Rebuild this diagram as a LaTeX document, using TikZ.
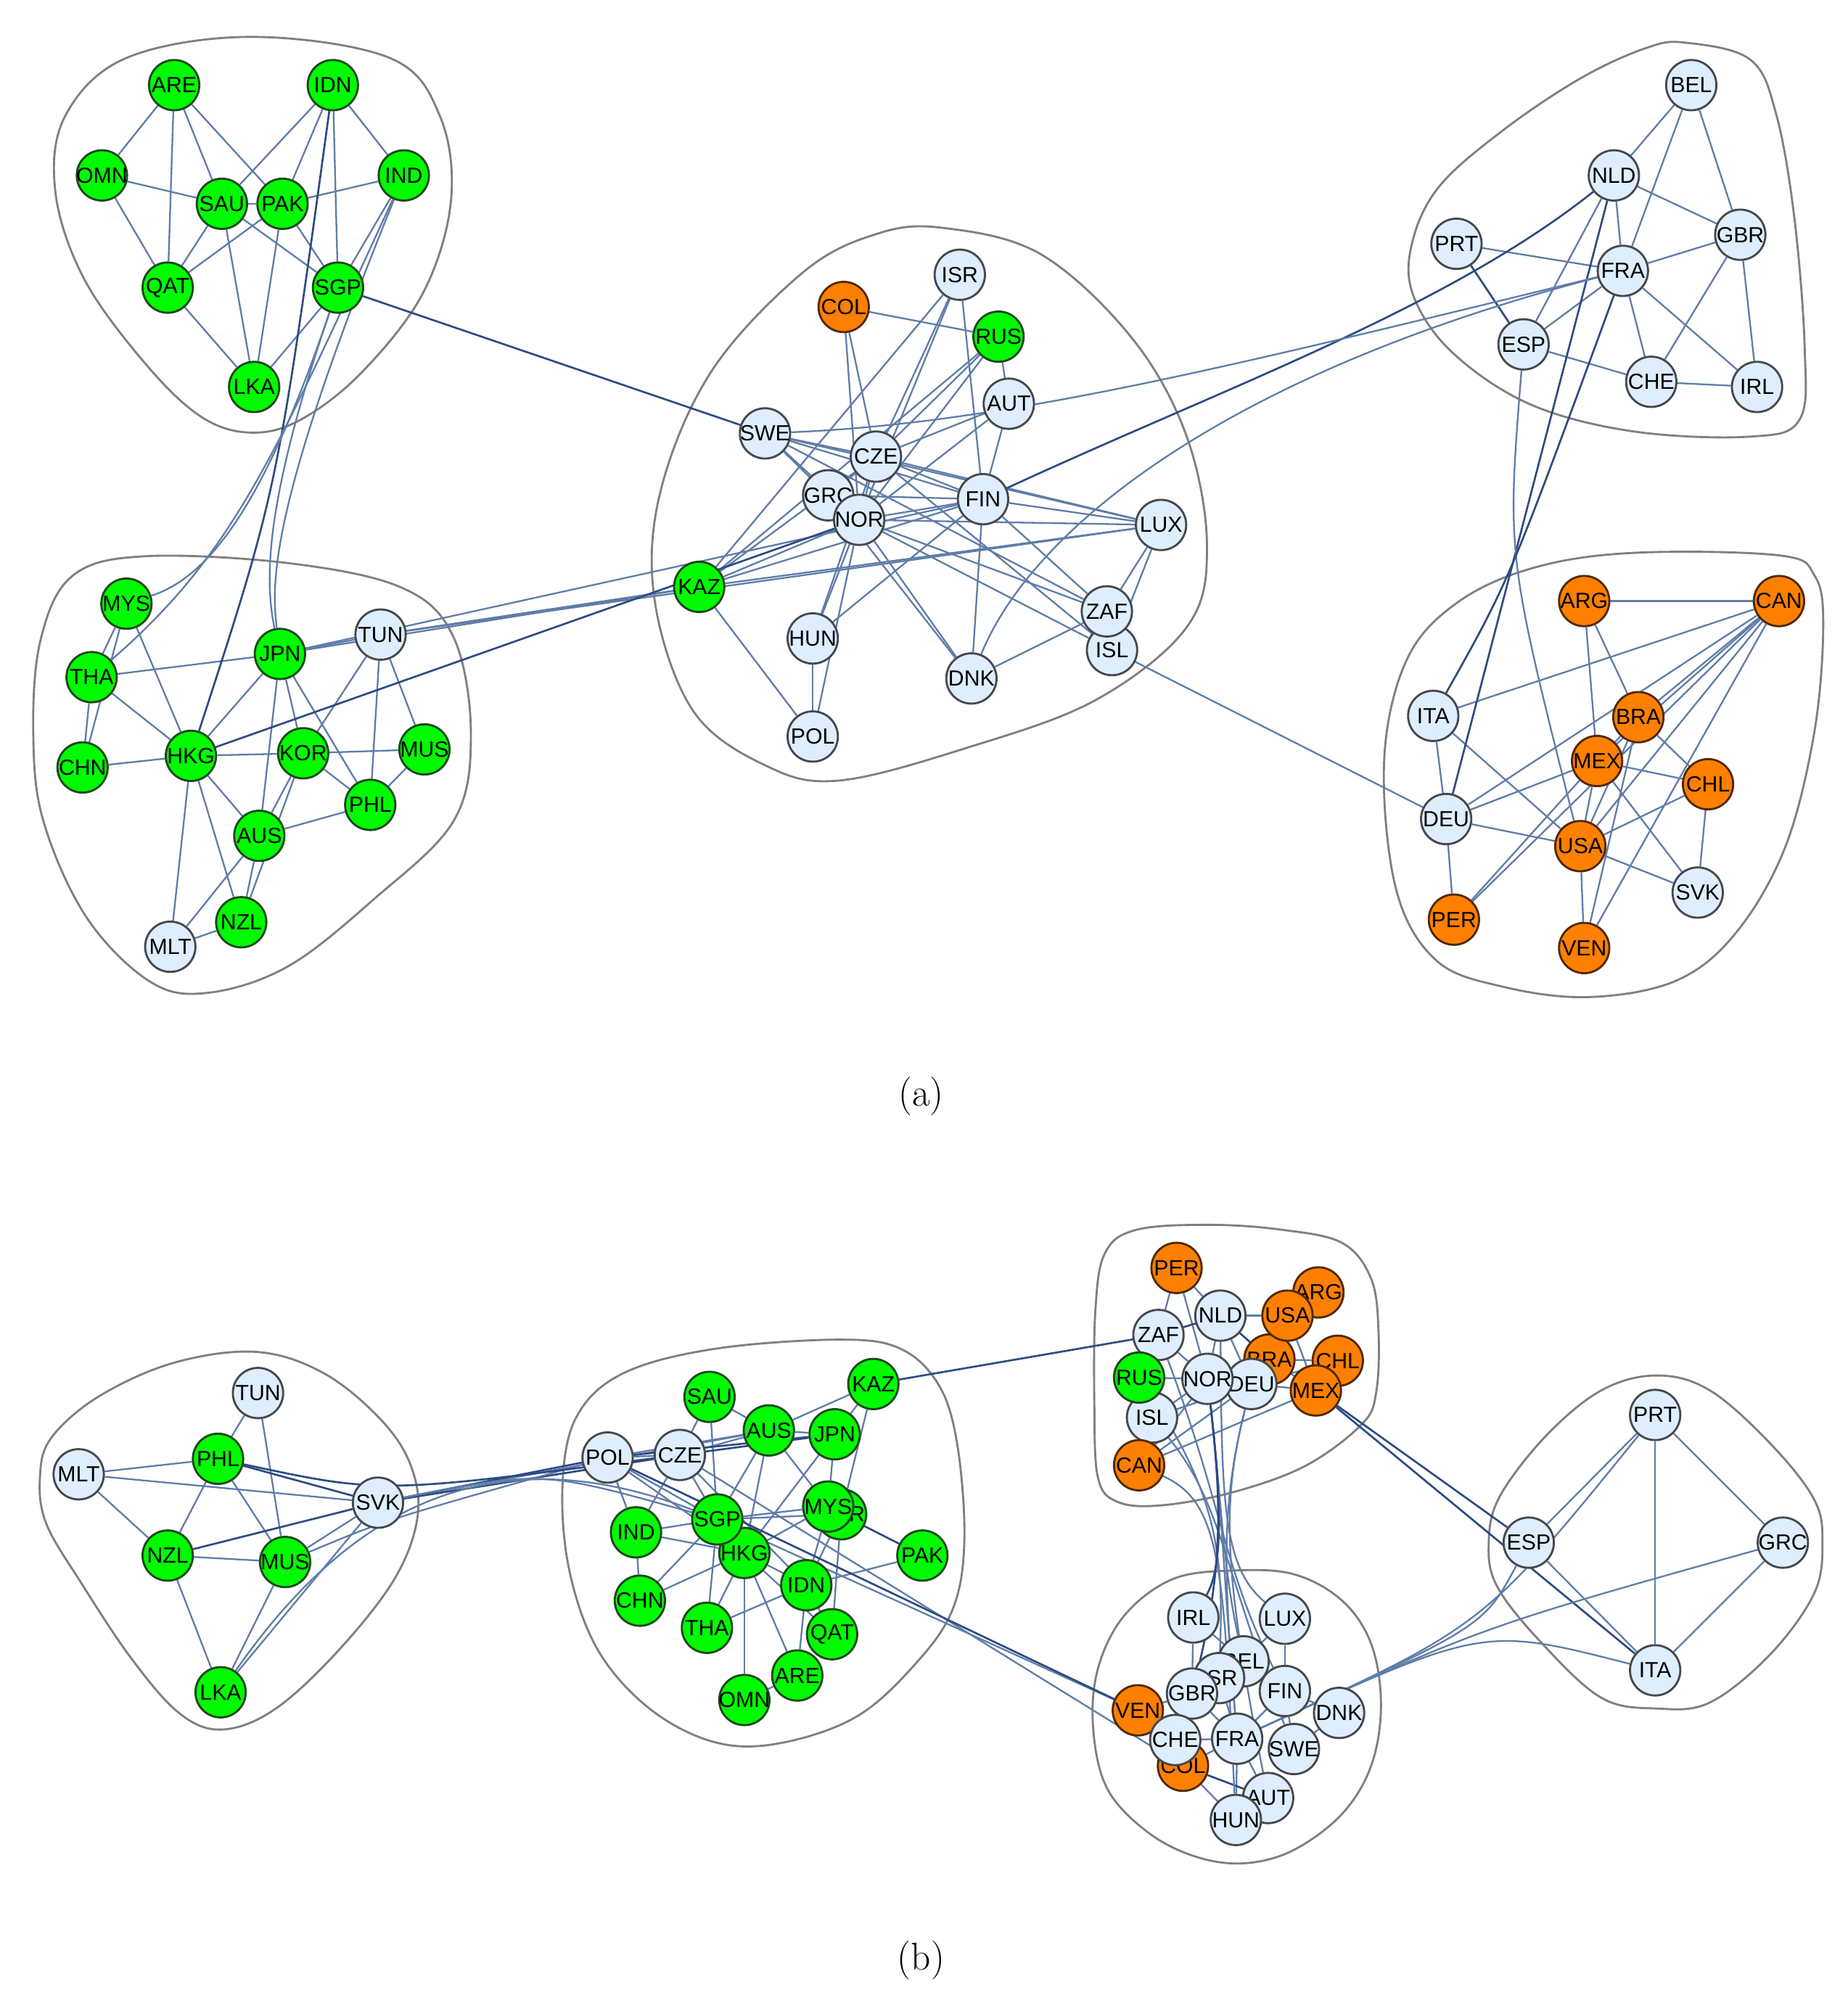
\documentclass[tikz,border=0pt]{standalone}
\usepackage{fontspec}
\newfontfamily\labfont{Liberation Sans}
\pgfdeclarelayer{bg}
\pgfsetlayers{bg,main}
\definecolor{gfill}{RGB}{0,250,0}
\definecolor{gline}{RGB}{30,70,30}
\definecolor{ofill}{RGB}{255,128,0}
\definecolor{oline}{RGB}{80,40,10}
\definecolor{bfill}{RGB}{222,238,255}
\definecolor{bline}{RGB}{70,72,78}
\definecolor{ecol}{RGB}{95,125,168}
\definecolor{edark}{RGB}{45,75,130}
\definecolor{hcol}{RGB}{128,128,128}
\tikzset{
 nd/.style={circle,minimum size=39pt,inner sep=0pt,line width=1.6pt,
   font=\labfont\fontsize{17}{17}\selectfont,
   execute at begin node={\hbox to 0pt\bgroup\hss},
   execute at end node={\hss\egroup}},
 gnode/.style={nd,fill=gfill,draw=gline},
 onode/.style={nd,fill=ofill,draw=oline},
 bnode/.style={nd,fill=bfill,draw=bline},
 ee/.style={draw=ecol,line width=1.3pt},
 ed/.style={draw=edark,line width=1.5pt},
 hull/.style={draw=hcol,line width=1.6pt},
 captxt/.style={font=\fontsize{30}{36}\selectfont}
}
\begin{document}
\begin{tikzpicture}[x=1pt,y=-1pt]
\useasboundingbox (0,0) rectangle (1432,1563);
% ---------------- (a) nodes
\node[gnode] (aARE) at (135,66) {ARE};
\node[gnode] (aIDN) at (258,66) {IDN};
\node[gnode] (aOMN) at (79,136) {OMN};
\node[gnode] (aIND) at (313,136) {IND};
\node[gnode] (aSAU) at (172,158) {SAU};
\node[gnode] (aPAK) at (219,158) {PAK};
\node[gnode] (aQAT) at (130,223) {QAT};
\node[gnode] (aSGP) at (262,223) {SGP};
\node[gnode] (aLKA) at (197,300) {LKA};
\node[gnode] (aMYS) at (98,468) {MYS};
\node[gnode] (aTHA) at (71,525) {THA};
\node[gnode] (aCHN) at (64,595) {CHN};
\node[gnode] (aHKG) at (148,586) {HKG};
\node[gnode] (aJPN) at (217,507) {JPN};
\node[bnode] (aTUN) at (295,492) {TUN};
\node[gnode] (aKOR) at (235,584) {KOR};
\node[gnode] (aMUS) at (329,581) {MUS};
\node[gnode] (aPHL) at (287,624) {PHL};
\node[gnode] (aAUS) at (201,648) {AUS};
\node[gnode] (aNZL) at (187,715) {NZL};
\node[bnode] (aMLT) at (132,734) {MLT};
\node[bnode] (aISR) at (744,213) {ISR};
\node[onode] (aCOL) at (654,238) {COL};
\node[gnode] (aRUS) at (774,261) {RUS};
\node[bnode] (aAUT) at (782,313) {AUT};
\node[bnode] (aSWE) at (593,336) {SWE};
\node[bnode] (aCZE) at (679,354) {CZE};
\node[bnode] (aGRC) at (642,384) {GRC};
\node[bnode] (aNOR) at (666,403) {NOR};
\node[bnode] (aFIN) at (762,387) {FIN};
\node[bnode] (aLUX) at (900,407) {LUX};
\node[gnode] (aKAZ) at (542,455) {KAZ};
\node[bnode] (aHUN) at (630,495) {HUN};
\node[bnode] (aISL) at (862,504) {ISL};
\node[bnode] (aZAF) at (858,474) {ZAF};
\node[bnode] (aDNK) at (753,526) {DNK};
\node[bnode] (aPOL) at (630,571) {POL};
\node[bnode] (aBEL) at (1311,66) {BEL};
\node[bnode] (aNLD) at (1251,136) {NLD};
\node[bnode] (aPRT) at (1129,189) {PRT};
\node[bnode] (aGBR) at (1349,182) {GBR};
\node[bnode] (aFRA) at (1258,210) {FRA};
\node[bnode] (aESP) at (1181,267) {ESP};
\node[bnode] (aCHE) at (1280,296) {CHE};
\node[bnode] (aIRL) at (1362,300) {IRL};
\node[onode] (aARG) at (1228,466) {ARG};
\node[onode] (aCAN) at (1379,466) {CAN};
\node[bnode] (aITA) at (1111,555) {ITA};
\node[onode] (aBRA) at (1270,556) {BRA};
\node[onode] (aMEX) at (1238,590) {MEX};
\node[onode] (aCHL) at (1324,608) {CHL};
\node[bnode] (aDEU) at (1121,635) {DEU};
\node[onode] (aUSA) at (1225,656) {USA};
\node[bnode] (aSVK) at (1316,692) {SVK};
\node[onode] (aPER) at (1127,713) {PER};
\node[onode] (aVEN) at (1228,735) {VEN};
% ---------------- (b) nodes
\node[bnode] (bTUN) at (200,1080) {TUN};
\node[gnode] (bPHL) at (169,1131) {PHL};
\node[bnode] (bMLT) at (61,1143) {MLT};
\node[bnode] (bSVK) at (293,1165) {SVK};
\node[gnode] (bNZL) at (130,1206) {NZL};
\node[gnode] (bMUS) at (221,1211) {MUS};
\node[gnode] (bLKA) at (171,1312) {LKA};
\node[gnode] (bSAU) at (550,1083) {SAU};
\node[gnode] (bKAZ) at (677,1073) {KAZ};
\node[gnode] (bAUS) at (596,1109) {AUS};
\node[gnode] (bJPN) at (647,1112) {JPN};
\node[bnode] (bPOL) at (471,1130) {POL};
\node[bnode] (bCZE) at (527,1128) {CZE};
\node[gnode] (bIND) at (493,1188) {IND};
\node[gnode] (bCHN) at (496,1241) {CHN};
\node[gnode] (bTHA) at (548,1262) {THA};
\node[gnode] (bOMN) at (577,1318) {OMN};
\node[gnode] (bARE) at (618,1299) {ARE};
\node[gnode] (bQAT) at (645,1267) {QAT};
\node[gnode] (bIDN) at (625,1229) {IDN};
\node[gnode] (bPAK) at (715,1206) {PAK};
\node[gnode] (bHKG) at (577,1204) {HKG};
\node[gnode] (bSGP) at (556,1178) {SGP};
\node[gnode] (bKOR) at (652,1174) {KOR};
\node[gnode] (bMYS) at (642,1168) {MYS};
\node[onode] (bPER) at (912,983) {PER};
\node[bnode] (bNLD) at (946,1020) {NLD};
\node[onode] (bARG) at (1022,1002) {ARG};
\node[onode] (bBRA) at (984,1054) {BRA};
\node[onode] (bUSA) at (998,1020) {USA};
\node[onode] (bCHL) at (1037,1055) {CHL};
\node[onode] (bMEX) at (1020,1078) {MEX};
\node[bnode] (bZAF) at (898,1035) {ZAF};
\node[bnode] (bISL) at (893,1099) {ISL};
\node[onode] (bCAN) at (883,1136) {CAN};
\node[gnode] (bRUS) at (883,1068) {RUS};
\node[bnode] (bDEU) at (970,1073) {DEU};
\node[bnode] (bNOR) at (936,1069) {NOR};
\node[bnode] (bIRL) at (925,1254) {IRL};
\node[bnode] (bLUX) at (996,1255) {LUX};
\node[bnode] (bBEL) at (964,1288) {BEL};
\node[bnode] (bISR) at (945,1301) {ISR};
\node[bnode] (bGBR) at (924,1313) {GBR};
\node[bnode] (bFIN) at (996,1311) {FIN};
\node[bnode] (bDNK) at (1038,1328) {DNK};
\node[bnode] (bSWE) at (1003,1356) {SWE};
\node[onode] (bVEN) at (882,1326) {VEN};
\node[onode] (bCOL) at (917,1369) {COL};
\node[bnode] (bCHE) at (911,1349) {CHE};
\node[bnode] (bFRA) at (959,1348) {FRA};
\node[bnode] (bAUT) at (983,1394) {AUT};
\node[bnode] (bHUN) at (958,1411) {HUN};
\node[bnode] (bPRT) at (1283,1097) {PRT};
\node[bnode] (bESP) at (1185,1196) {ESP};
\node[bnode] (bGRC) at (1382,1196) {GRC};
\node[bnode] (bITA) at (1283,1295) {ITA};
% captions
\node[captxt] (capa) at (714,850) {(a)};
\node[captxt] (capb) at (714,1520) {(b)};
\begin{pgfonlayer}{bg}
% hulls
\draw[hull] plot[smooth cycle,tension=0.6] coordinates {(194.7,28.6) (302.3,45) (341,90) (349.6,155.4) (328,227) (280.7,288.4) (233.4,325.2) (194.7,335.4) (155.9,323.1) (112.9,282.2) (65.5,216.8) (43,149.3) (50.5,90) (97.8,45)};
\draw[hull] plot[smooth cycle,tension=0.6] coordinates {(111.5,431.3) (222.7,436.5) (311.6,455.7) (351.6,494.1) (365,568.7) (351.6,636.5) (289.4,697.5) (222.7,749.5) (160.4,769.8) (115.9,760.8) (67,711.1) (33.6,636.5) (25.8,568.7) (31.4,496.4) (55.9,446.7)};
\draw[hull] plot[smooth cycle,tension=0.6] coordinates {(730.1,176.6) (806.6,197) (877.5,262.2) (920,338.7) (935.6,423.8) (920,486.1) (849.2,542.8) (750,579.6) (650.8,605.1) (594.1,593.8) (537.4,551.3) (507.6,466.3) (511.9,381.3) (551.6,287.7) (622.4,211.2) (679.1,181.5)};
\draw[hull] plot[smooth cycle,tension=0.6] coordinates {(1306.5,33.1) (1356.7,46.2) (1376.8,88.4) (1390.9,168.7) (1398.9,269.2) (1394.9,325.4) (1356.7,338.5) (1266.3,334.5) (1186,313.4) (1125.7,273.2) (1095.5,229) (1094.5,188.8) (1115.6,144.6) (1165.9,100.4) (1226.1,60.2) (1276.4,37.1)};
\draw[hull] plot[smooth cycle,tension=0.6] coordinates {(1268.8,428.5) (1380,430.7) (1406.6,446.3) (1413.3,484.1) (1406.6,566.4) (1384.4,655.3) (1346.6,722) (1300,760) (1232,773) (1165,765) (1113,744.3) (1082,688.7) (1073,588.6) (1090.8,510.8) (1130.9,466.3) (1191,439.6)};
\draw[hull] plot[smooth cycle,tension=0.6] coordinates {(198.6,1048.1) (250.9,1064.6) (295.4,1100.8) (318.7,1136.9) (323.5,1177.1) (305.1,1225.3) (260.5,1281.6) (212.1,1325.8) (171.4,1340.9) (138.5,1327.8) (101.7,1285.6) (63,1227.3) (35.8,1181.1) (31,1145) (39.7,1114.8) (76.5,1082.7) (134.6,1056.6)};
\draw[hull] plot[smooth cycle,tension=0.6] coordinates {(650.1,1038.6) (698.3,1045.8) (728.4,1075) (742.5,1122.8) (747.5,1195.6) (738.5,1247.6) (710.3,1289.2) (664.1,1330.8) (603.9,1351.6) (553.6,1350.6) (503.4,1324.6) (463.2,1278.8) (441.1,1216.4) (436.1,1149.8) (447.2,1097.8) (483.3,1064.6) (553.6,1045.8)};
\draw[hull] plot[smooth cycle,tension=0.6] coordinates {(937.4,949.6) (993.6,953.4) (1040.5,963.7) (1063,991.8) (1068.6,1033.1) (1066.7,1079.9) (1055.5,1104.3) (1012.4,1136.2) (956.1,1156.8) (899.9,1167.1) (866.1,1164.3) (851.1,1145.6) (848.3,1089.3) (849.2,1014.3) (856.7,971.2) (881.1,953.4)};
\draw[hull] plot[smooth cycle,tension=0.6] coordinates {(956.1,1217.6) (1003,1220.5) (1040.5,1241.1) (1063,1274.8) (1070.5,1321.7) (1063,1368.6) (1040.5,1406.1) (1003,1434.2) (965.5,1444.5) (928,1439.8) (890.5,1421.1) (858.6,1387.3) (847.4,1340.4) (851.1,1293.6) (871.7,1252.3) (909.2,1224.2)};
\draw[hull] plot[smooth cycle,tension=0.6] coordinates {(1284.3,1066.4) (1325.5,1078) (1372.4,1119.3) (1406.2,1162.4) (1412.7,1196.2) (1406.2,1235.5) (1372.4,1282.4) (1325.5,1319.9) (1284.3,1324.6) (1241.2,1316.2) (1194.3,1273) (1160.5,1229.9) (1154,1196.2) (1162.4,1160.5) (1198,1113.6) (1241.2,1078)};
% ---------------- (a) edges
\foreach \u/\v in {aARE/aOMN,aARE/aQAT,aARE/aSAU,aARE/aPAK,aIDN/aSAU,aIDN/aPAK,aIDN/aSGP,aIDN/aIND,
  aOMN/aSAU,aOMN/aQAT,aSAU/aPAK,aSAU/aQAT,aSAU/aLKA,aSAU/aSGP,aPAK/aIND,aPAK/aQAT,aPAK/aLKA,
  aPAK/aSGP,aIND/aSGP,aQAT/aLKA,aSGP/aLKA,
  aMYS/aTHA,aMYS/aCHN,aTHA/aCHN,aMYS/aHKG,aTHA/aJPN,aTHA/aHKG,aCHN/aHKG,aHKG/aJPN,aHKG/aKOR,
  aHKG/aAUS,aHKG/aNZL,aHKG/aMLT,aJPN/aTUN,aJPN/aKOR,aJPN/aPHL,aJPN/aAUS,aTUN/aKOR,aTUN/aPHL,
  aTUN/aMUS,aKOR/aMUS,aKOR/aPHL,aKOR/aAUS,aKOR/aNZL,aMUS/aPHL,aPHL/aAUS,aAUS/aNZL,aAUS/aMLT,aMLT/aNZL,
  aJPN/aFIN,aJPN/aKAZ,aTUN/aLUX,aTUN/aKAZ,
  aCOL/aRUS,aCOL/aCZE,aCOL/aNOR,aISR/aCZE,aISR/aNOR,aISR/aFIN,aISR/aKAZ,aRUS/aAUT,aRUS/aCZE,
  aRUS/aNOR,aRUS/aKAZ,aAUT/aCZE,aAUT/aNOR,aAUT/aFIN,aSWE/aCZE,aSWE/aGRC,aSWE/aNOR,aSWE/aFIN,
  aSWE/aLUX,aSWE/aZAF,aCZE/aFIN,aCZE/aLUX,aCZE/aNOR,aCZE/aGRC,aCZE/aHUN,aCZE/aISL,aGRC/aNOR,
  aGRC/aFIN,aGRC/aDNK,aNOR/aFIN,aNOR/aLUX,aNOR/aZAF,aNOR/aISL,aNOR/aDNK,aNOR/aHUN,aNOR/aPOL,
  aNOR/aKAZ,aFIN/aLUX,aFIN/aZAF,aFIN/aDNK,aFIN/aHUN,aFIN/aKAZ,aLUX/aZAF,aLUX/aISL,aLUX/aKAZ,
  aZAF/aDNK,aKAZ/aPOL,aKAZ/aCZE,aHUN/aPOL,aISL/aDEU,
  aBEL/aNLD,aBEL/aFRA,aBEL/aGBR,aNLD/aGBR,aNLD/aFRA,aNLD/aESP,aPRT/aFRA,aFRA/aGBR,aFRA/aESP,
  aFRA/aCHE,aFRA/aIRL,aGBR/aCHE,aGBR/aIRL,aESP/aCHE,aCHE/aIRL,
  aARG/aCAN,aARG/aMEX,aARG/aBRA,aCAN/aITA,aCAN/aBRA,aCAN/aMEX,aCAN/aUSA,aCAN/aVEN,aCAN/aPER,
  aCAN/aDEU,aDEU/aITA,aDEU/aMEX,aDEU/aUSA,aDEU/aPER,aITA/aUSA,aBRA/aMEX,aBRA/aUSA,aBRA/aCHL,
  aBRA/aVEN,aMEX/aCHL,aMEX/aUSA,aMEX/aSVK,aMEX/aPER,aCHL/aUSA,aCHL/aSVK,aUSA/aSVK,aUSA/aVEN}
  \draw[ee] (\u) -- (\v);
\foreach \u/\v in {aSGP/aSWE,aHKG/aNOR,aNLD/aDEU,aPRT/aESP}
  \draw[ed] (\u) -- (\v);
\draw[ed] (aFIN) .. controls (950,300) and (1120,240) .. (aNLD);
\draw[ed] (aIDN) .. controls (215,380) .. (aHKG);
\draw[ee] (aSGP) .. controls (205,390) and (205,450) .. (aJPN);
\draw[ee] (aIND) .. controls (210,390) and (210,450) .. (aJPN);
\draw[ee] (aSGP) .. controls (212,370) and (170,445) .. (aMYS);
\draw[ee] (aIND) .. controls (210,360) and (180,430) .. (aTHA);
\draw[ee] (aSWE) .. controls (780,328) and (950,285) .. (aFRA);
\draw[ee] (aDNK) .. controls (800,410) and (950,290) .. (aFRA);
\draw[ee] (aESP) .. controls (1168,430) .. (aUSA);
\draw[ed] (aFRA) .. controls (1170,450) .. (aITA);
% ---------------- (b) edges
\foreach \u/\v in {bTUN/bPHL,bTUN/bMUS,bMLT/bPHL,bMLT/bSVK,bMLT/bNZL,bPHL/bNZL,bPHL/bMUS,
  bNZL/bMUS,bNZL/bLKA,bMUS/bSVK,bMUS/bLKA,bLKA/bSVK,bSVK/bAUS,
  bSAU/bAUS,bSAU/bCZE,bSAU/bSGP,bPOL/bCZE,bPOL/bAUS,bPOL/bIND,bPOL/bSGP,bPOL/bHKG,
  bCZE/bAUS,bCZE/bSGP,bCZE/bIND,bCZE/bIDN,bAUS/bKAZ,bAUS/bJPN,bAUS/bSGP,bAUS/bHKG,bAUS/bMYS,
  bJPN/bKAZ,bJPN/bMYS,bJPN/bHKG,bKAZ/bKOR,bSGP/bMYS,bSGP/bKOR,bSGP/bIND,bSGP/bCHN,bSGP/bHKG,
  bSGP/bTHA,bIND/bHKG,bIND/bCHN,bMYS/bHKG,bMYS/bIDN,bKOR/bQAT,bKOR/bIDN,bHKG/bCHN,bHKG/bTHA,
  bHKG/bOMN,bHKG/bARE,bHKG/bIDN,bHKG/bQAT,bIDN/bTHA,bIDN/bARE,bIDN/bPAK,bIDN/bQAT,bARE/bOMN,
  bSGP/bVEN,bCZE/bCOL,
  bPER/bZAF,bPER/bNLD,bPER/bNOR,bZAF/bNOR,bZAF/bISL,bNLD/bUSA,bNLD/bNOR,bNLD/bDEU,bRUS/bNOR,
  bUSA/bMEX,bBRA/bCHL,bBRA/bMEX,bDEU/bMEX,bDEU/bCHL,bNOR/bISL,bNOR/bCAN,bDEU/bCAN,bMEX/bCAN,
  bISL/bDEU,
  bIRL/bGBR,bIRL/bBEL,bLUX/bBEL,bLUX/bFIN,bFIN/bFRA,bFIN/bDNK,bFIN/bSWE,bDNK/bSWE,bFRA/bAUT,
  bFRA/bHUN,bCHE/bFRA,bGBR/bFRA,bCOL/bFRA,bCOL/bHUN,bVEN/bGBR,bISR/bFRA,
  bPRT/bESP,bPRT/bITA,bPRT/bGRC,bESP/bITA,bGRC/bITA}
  \draw[ee] (\u) -- (\v);
\foreach \u/\v in {bPHL/bSVK,bNZL/bSVK,bSVK/bPOL,bSVK/bCZE,bPOL/bJPN,bCZE/bJPN,bKOR/bPAK,
  bKAZ/bZAF,bPOL/bVEN,bZAF/bNLD,bNLD/bBRA,bMEX/bESP,bMEX/bITA,bCOL/bAUT}
  \draw[ed] (\u) -- (\v);
\draw[ee] (bLKA) .. controls (270,1170) and (380,1110) .. (bSGP);
\draw[ee] (bSVK) .. controls (420,1140) .. (bSGP);
\draw[ee] (bMUS) .. controls (300,1178) .. (bPOL);
\draw[ed] (bPHL) .. controls (295,1158) .. (bCZE);
% bundle top -> bottom
\foreach \u/\v in {bRUS/bISR,bNOR/bBEL,bDEU/bFRA,bNOR/bFRA,bNLD/bLUX,bZAF/bFIN,bDEU/bAUT,bISL/bSWE,bCAN/bHUN}
  \draw[ee] (\u) .. controls (947,1165) and (948,1215) .. (\v);
\foreach \u/\v in {bNOR/bIRL,bNOR/bGBR}
  \draw[ed] (\u) .. controls (947,1165) and (948,1215) .. (\v);
% bundle bottom -> right
\foreach \v in {bPRT,bESP,bGRC,bITA}
  \draw[ee] (bFRA) .. controls (1150,1261) and (1150,1261) .. (\v);
\end{pgfonlayer}
\end{tikzpicture}
\end{document}
